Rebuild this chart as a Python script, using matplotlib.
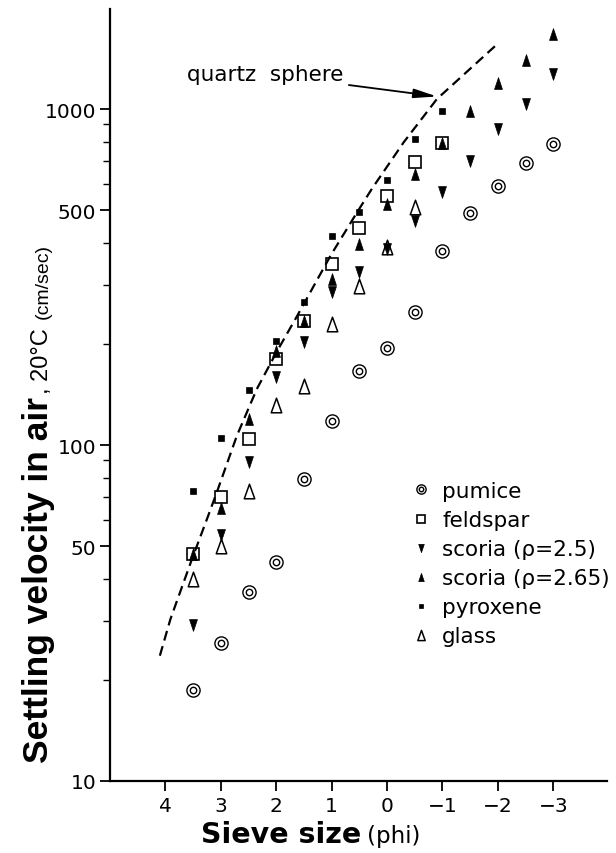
import numpy as np
import matplotlib
matplotlib.use('Agg')
import matplotlib.pyplot as plt
from matplotlib.path import Path
from matplotlib.legend_handler import HandlerTuple

# ---------------- data ----------------
phi_all = [3.5, 3.0, 2.5, 2.0, 1.5, 1.0, 0.5, 0.0, -0.5, -1.0, -1.5, -2.0, -2.5, -3.0]
pumice = [18.6, 25.7, 36.4, 45, 79, 118, 166, 194, 248, 378, 491, 590, 689, 788]
feldspar_phi = phi_all[:10]
feldspar = [47.4, 69.9, 104, 180, 234, 346, 442, 552, 694, 792]
scoria25 = [29.1, 54.0, 89.2, 159, 202, 285, 327, 383, 465, 567, 702, 872, 1035, 1271]
scoria265 = [47.4, 64.8, 119.5, 190, 234, 313, 396, 522, 640, 792, 988, 1192, 1399, 1672]
pyroxene_phi = phi_all[:10]
pyroxene = [73.1, 104.7, 145.8, 204, 267, 420, 493, 616, 814, 988]
glass_phi = phi_all[:9]
glass = [39.9, 50.1, 73.1, 132, 150, 229, 298, 388, 511]
quartz_phi = [4.10, 3.91, 3.52, 3.25, 3.07, 2.71, 2.35, 1.98, 1.62, 1.02, 0.54, 0.27, -0.30, -0.90, -1.99]
quartz_v = [23.6, 30.3, 45.8, 60.2, 72.5, 106.6, 146.8, 190.9, 242.6, 366, 493, 580, 796, 1071, 1561]

xticks = [4, 3, 2, 1, 0, -1, -2, -3]
yticks = [10, 50, 100, 500, 1000]
ytick_labels = ['10', '50', '100', '500', '1000']
legend_labels = ['pumice', 'feldspar', 'scoria (\u03c1=2.5)', 'scoria (\u03c1=2.65)', 'pyroxene', 'glass']

# ---------------- figure ----------------
W, H = 616, 854
fig = plt.figure(figsize=(W / 100, H / 100), dpi=100)
ax = fig.add_axes([110 / W, 1 - 782 / H, (607 - 110) / W, (782 - 10) / H])
ax.set_yscale('log')
ax.set_xlim(5.0, -3.97)
ax.set_ylim(10, 1985)

for s in ['top', 'right']:
    ax.spines[s].set_visible(False)
for s in ['left', 'bottom']:
    ax.spines[s].set_linewidth(1.6)

tri_up = Path([(-0.67, -1), (0.67, -1), (0, 1), (-0.67, -1)],
              [Path.MOVETO, Path.LINETO, Path.LINETO, Path.CLOSEPOLY])
tri_dn = Path([(-0.67, 1), (0.67, 1), (0, -1), (-0.67, 1)],
              [Path.MOVETO, Path.LINETO, Path.LINETO, Path.CLOSEPOLY])
tri_gl = Path([(-0.72, -1), (0.72, -1), (0, 1), (-0.72, -1)],
              [Path.MOVETO, Path.LINETO, Path.LINETO, Path.CLOSEPOLY])

# quartz sphere curve
ax.plot(quartz_phi, quartz_v, color='black', lw=1.6, linestyle=(0, (4.5, 2.6)), zorder=1)

pu_o, = ax.plot(phi_all, pumice, ls='none', marker='o', ms=9.5, mfc='white', mec='black', mew=1.0, zorder=3)
pu_i, = ax.plot(phi_all, pumice, ls='none', marker='o', ms=4.6, mfc='none', mec='black', mew=1.0, zorder=4)
gl, = ax.plot(glass_phi, glass, ls='none', marker=tri_gl, ms=10.5, mfc='none', mec='black', mew=1.1, zorder=3)
s25, = ax.plot(phi_all, scoria25, ls='none', marker=tri_dn, ms=8.5, mfc='black', mec='black', mew=0.5, zorder=4)
s265, = ax.plot(phi_all, scoria265, ls='none', marker=tri_up, ms=8.5, mfc='black', mec='black', mew=0.5, zorder=4)
fe, = ax.plot(feldspar_phi, feldspar, ls='none', marker='s', ms=8.0, mfc='none', mec='black', mew=1.2, zorder=5)
py, = ax.plot(pyroxene_phi, pyroxene, ls='none', marker='s', ms=4.8, mfc='black', mec='black', mew=0.5, zorder=5)

# ticks
tick_font = dict(family='DejaVu Sans', size=14.5)
ax.set_xticks(xticks)
ax.set_xticklabels([str(t) if t >= 0 else '\u2212' + str(-t) for t in xticks], fontdict=tick_font)
ax.set_yticks(yticks)
ax.set_yticklabels(ytick_labels, fontdict=tick_font)
minor = [v * m for v in [10, 100, 1000] for m in range(2, 10) if v * m < 1985 and v * m not in (50, 500)]
ax.set_yticks(minor, minor=True)
ax.set_yticklabels([], minor=True)
ax.tick_params(axis='both', which='major', direction='out', length=7, width=1.3, pad=3)
ax.tick_params(axis='y', which='minor', direction='out', length=5, width=1.0)
ax.tick_params(axis='x', which='major', length=7, pad=4)

# annotation
ax.annotate('quartz  sphere', xy=(-0.90, 1090), xytext=(2.2, 1270),
            ha='center', va='center', fontsize=15.5, family='DejaVu Sans',
            arrowprops=dict(arrowstyle='-|>,head_length=0.9,head_width=0.18',
                            color='black', lw=1.3, shrinkA=2, shrinkB=0))

# legend
leg = ax.legend([(pu_o, pu_i), fe, s25, s265, py, gl], legend_labels,
                loc='upper left', bbox_to_anchor=(411 / W, 1 - 482 / H),
                bbox_transform=fig.transFigure, frameon=False,
                prop=dict(family='DejaVu Sans', size=15.5),
                handlelength=0.9, handletextpad=0.55, labelspacing=0.42,
                markerscale=0.7, borderpad=0, borderaxespad=0,
                handler_map={tuple: HandlerTuple(ndivide=1, pad=0)})

# axis labels composed of several text pieces
fig.canvas.draw()
r = fig.canvas.get_renderer()
ylab_font = ['Liberation Sans Narrow', 'Liberation Sans', 'DejaVu Sans']
t1 = fig.text(48 / W, 1 - 763 / H, 'Settling velocity in air', rotation=90,
              rotation_mode='anchor', ha='left', va='baseline',
              fontsize=25.5, fontweight='bold', family=ylab_font)
bb = t1.get_window_extent(r)
t2 = fig.text(48 / W, (bb.y1 + 3) / H, ', 20\u00b0C', rotation=90,
              rotation_mode='anchor', ha='left', va='baseline',
              fontsize=17, family=ylab_font)
bb2 = t2.get_window_extent(r)
t3 = fig.text(48 / W, (bb2.y1 + 9) / H, '(cm/sec)', rotation=90,
              rotation_mode='anchor', ha='left', va='baseline',
              fontsize=14, family=ylab_font)

x1 = fig.text(201 / W, 1 - 843 / H, 'Sieve size', ha='left', va='baseline',
              fontsize=20.5, fontweight='bold', family='DejaVu Sans')
bbx = x1.get_window_extent(r)
fig.text((bbx.x1 + 6) / W, 1 - 843 / H, '(phi)', ha='left', va='baseline',
         fontsize=16.5, family='DejaVu Sans')

fig.savefig('out.png', dpi=100)
